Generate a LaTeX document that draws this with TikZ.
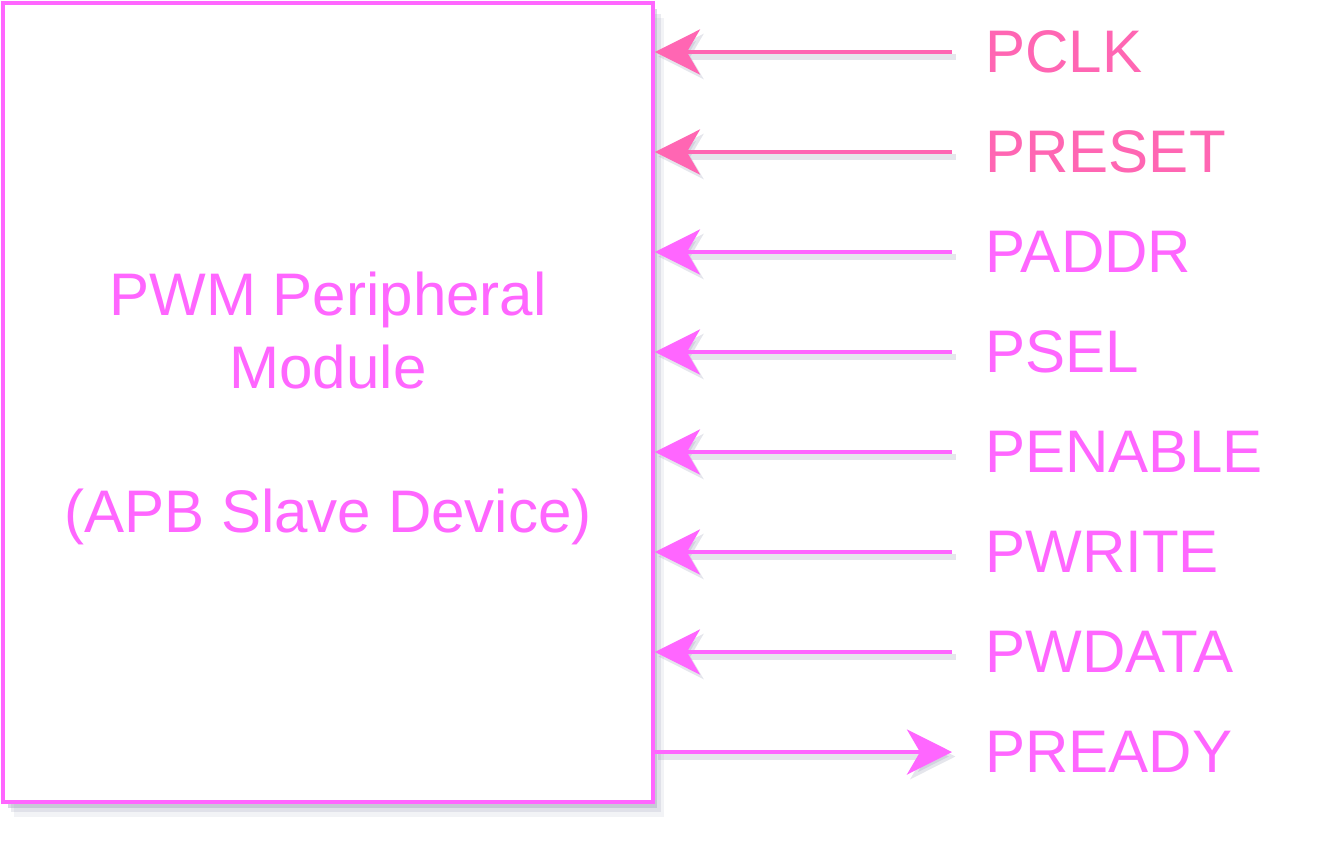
\documentclass[tikz,border=0pt]{standalone}
\usepackage{fontspec}
\setmainfont{Liberation Sans}
\usetikzlibrary{positioning}
\usetikzlibrary{arrows.meta}
\usetikzlibrary{shadows}
\definecolor{rosepink}{HTML}{FF66B3}
\definecolor{violetpink}{HTML}{FF66FF}
\definecolor{shadowgray}{RGB}{150,155,180}
\newcommand{\bigtext}{\fontsize{34.2pt}{41.2pt}\selectfont}

\begin{document}
\begin{tikzpicture}[x=0.02cm,y=-0.02cm]
		\tikzset{>={Stealth[length=0.9cm,width=0.9cm,inset=0.26cm]}}
		\tikzset{sig/.style={line width=0.085cm,->,
				preaction={draw=shadowgray,opacity=.25,line width=0.12cm,
					transform canvas={shift={(0.07cm,-0.09cm)}}}},
			siglabel/.style={inner sep=0pt,font=\bigtext},
			module/.style={draw=violetpink,line width=0.08cm,fill=white,
				minimum width=13cm,minimum height=15.98cm,align=center,
				text=violetpink,font=\bigtext,text depth=0pt,
				drop shadow={shadow xshift=0.22cm,shadow yshift=-0.3cm,opacity=.12,fill=shadowgray},
				drop shadow={shadow xshift=0.16cm,shadow yshift=-0.21cm,opacity=.2,fill=shadowgray},
				drop shadow={shadow xshift=0.09cm,shadow yshift=-0.12cm,opacity=.35,fill=shadowgray}}}
		\useasboundingbox (0,0) rectangle (1320,860);
		
		\node[module] (pwm) at (328,402.5) {PWM Peripheral\\Module\\[41.2pt](APB Slave Device)};
		
		\coordinate (pclk) at (952,52);
		\coordinate (preset) at (952,152);
		\coordinate (paddr) at (952,252);
		\coordinate (psel) at (952,352);
		\coordinate (penable) at (952,452);
		\coordinate (pwrite) at (952,552);
		\coordinate (pwdata) at (952,652);
		\coordinate (pready) at (952,752);
		
		\node[siglabel,text=rosepink,right=0.66cm of pclk] (pclk label) {PCLK};
		\node[siglabel,text=rosepink,right=0.66cm of preset] (preset label) {PRESET};
		\node[siglabel,text=violetpink,right=0.66cm of paddr] (paddr label) {PADDR};
		\node[siglabel,text=violetpink,right=0.66cm of psel] (psel label) {PSEL};
		\node[siglabel,text=violetpink,right=0.66cm of penable] (penable label) {PENABLE};
		\node[siglabel,text=violetpink,right=0.66cm of pwrite] (pwrite label) {PWRITE};
		\node[siglabel,text=violetpink,right=0.66cm of pwdata] (pwdata label) {PWDATA};
		\node[siglabel,text=violetpink,right=0.66cm of pready] (pready label) {PREADY};
		
		\draw[sig,rosepink] (pclk) -- (pclk -| pwm.east);
		\draw[sig,rosepink] (preset) -- (preset -| pwm.east);
		\draw[sig,violetpink] (paddr) -- (paddr -| pwm.east);
		\draw[sig,violetpink] (psel) -- (psel -| pwm.east);
		\draw[sig,violetpink] (penable) -- (penable -| pwm.east);
		\draw[sig,violetpink] (pwrite) -- (pwrite -| pwm.east);
		\draw[sig,violetpink] (pwdata) -- (pwdata -| pwm.east);
		\draw[sig,violetpink] (pready -| pwm.east) -- (pready);
		
		\end{tikzpicture}
\end{document}
